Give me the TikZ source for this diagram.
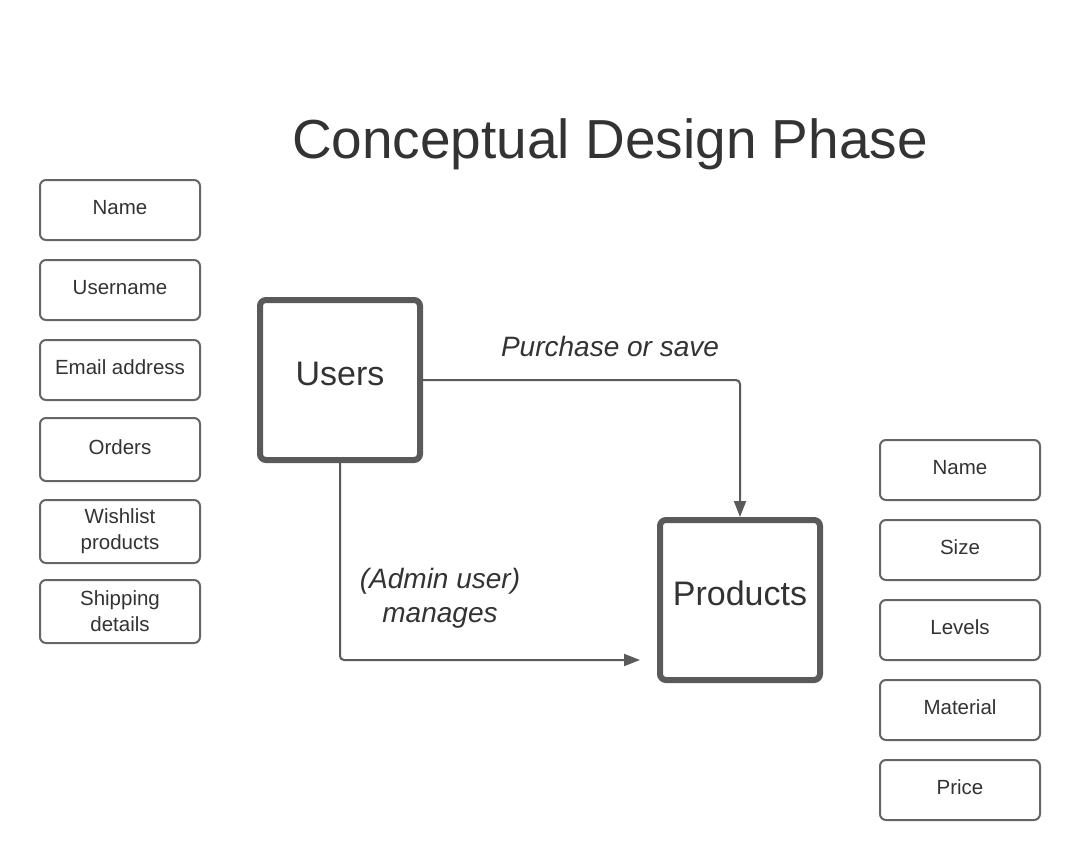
\documentclass[tikz,border=0pt]{standalone}
\usepackage{fontspec}
\setmainfont{Liberation Sans}
\usetikzlibrary{arrows.meta}
\definecolor{txt}{HTML}{333333}
\definecolor{bord}{HTML}{5A5A5A}
\definecolor{sbord}{HTML}{666666}
\begin{document}
\begin{tikzpicture}[x=1pt,y=-1pt,
  attr/.style={draw=sbord,line width=2pt,rounded corners=6pt,minimum width=160pt,minimum height=60pt,inner sep=0pt,text=txt,align=center,font=\fontsize{20.5}{26}\selectfont},
  one/.style={text height=15pt,text depth=6pt},
  ent/.style={draw=bord,line width=6pt,rounded corners=6pt,minimum width=160pt,minimum height=160pt,inner sep=0pt,text=txt,text height=24pt,text depth=14pt,font=\fontsize{34}{40}\selectfont},
  conn/.style={draw=bord,line width=2pt,rounded corners=4pt,-{Triangle[length=16pt,width=12pt]}},
  lbl/.style={text=txt,align=center,font=\fontsize{28}{34}\selectfont\itshape}]
\fill[white] (0,0) rectangle (1080,860);
\node[text=txt,font=\fontsize{55}{60}\selectfont] (title) at (610,144) {Conceptual Design Phase};
\node[attr,one] (un) at (120,210) {Name};
\node[attr,one] (uu) at (120,290) {Username};
\node[attr,one] (ue) at (120,370) {Email address};
\node[attr,one,minimum height=63pt] (uo) at (120,449.5) {Orders};
\node[attr,minimum height=63pt] (uw) at (120,531.5) {Wishlist\\products};
\node[attr,minimum height=63pt] (us) at (120,611.5) {Shipping\\details};
\node[attr,one] (pn) at (960,470) {Name};
\node[attr,one] (ps) at (960,550) {Size};
\node[attr,one] (pl) at (960,630) {Levels};
\node[attr,one] (pm) at (960,710) {Material};
\node[attr,one] (pp) at (960,790) {Price};
\node[ent] (users) at (340,380) {Users};
\node[ent] (prod) at (740,600) {Products};
\coordinate (e2) at (640,660);
\draw[conn] (users.east) -| (prod.north);
\draw[conn] (users.south) |- (e2);
\node[lbl] (l1) at (610,346) {Purchase or save};
\node[lbl] (l2) at (440,598) {(Admin user)\\manages};
\end{tikzpicture}
\end{document}
